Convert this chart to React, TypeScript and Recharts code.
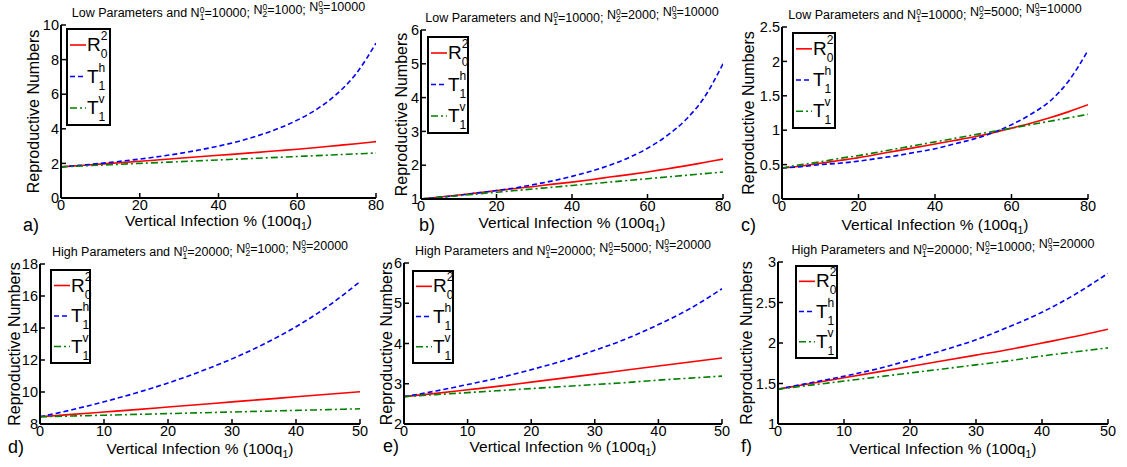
import React from 'react';
import { LineChart, Line, XAxis, YAxis } from 'recharts';

const FONT = '"Liberation Sans", Arial, Helvetica, sans-serif';

// x values (vertical infection %)
const xLow = [0, 5, 10, 15, 20, 25, 30, 35, 40, 45, 50, 55, 60, 65, 70, 75, 80];
const xHigh = [0, 5, 10, 15, 20, 25, 30, 35, 40, 45, 50];
const xTicksLow = [0, 20, 40, 60, 80];
const xTicksHigh = [0, 10, 20, 30, 40, 50];

// panel a
const aR0 = [1.8, 1.88, 1.96, 2.04, 2.12, 2.21, 2.3, 2.38, 2.47, 2.55, 2.64, 2.73, 2.82, 2.92, 3.03, 3.14, 3.26];
const aTh = [1.8, 1.89, 2.0, 2.12, 2.25, 2.4, 2.57, 2.77, 3.0, 3.27, 3.6, 4.0, 4.5, 5.14, 6.0, 7.2, 8.95];
const aTv = [1.8, 1.85, 1.9, 1.95, 2.0, 2.05, 2.1, 2.15, 2.2, 2.25, 2.3, 2.35, 2.4, 2.45, 2.5, 2.55, 2.6];
const aYTicks = [0, 2, 4, 6, 8, 10];
// panel b
const bR0 = [1.0, 1.06, 1.12, 1.18, 1.25, 1.31, 1.37, 1.44, 1.5, 1.57, 1.65, 1.72, 1.8, 1.89, 1.98, 2.08, 2.18];
const bTh = [1.0, 1.05, 1.11, 1.18, 1.25, 1.33, 1.43, 1.54, 1.67, 1.82, 2.0, 2.22, 2.5, 2.86, 3.33, 4.0, 5.0];
const bTv = [1.0, 1.05, 1.1, 1.15, 1.2, 1.25, 1.3, 1.35, 1.4, 1.45, 1.5, 1.55, 1.6, 1.65, 1.7, 1.75, 1.8];
const bYTicks = [1, 2, 3, 4, 5, 6];
// panel c
const cR0 = [0.45, 0.48, 0.52, 0.56, 0.6, 0.65, 0.7, 0.75, 0.8, 0.85, 0.9, 0.96, 1.03, 1.1, 1.18, 1.27, 1.37];
const cTh = [0.45, 0.47, 0.5, 0.52, 0.55, 0.59, 0.63, 0.68, 0.73, 0.8, 0.87, 0.96, 1.08, 1.23, 1.42, 1.72, 2.16];
const cTv = [0.45, 0.5, 0.54, 0.59, 0.63, 0.68, 0.73, 0.78, 0.83, 0.88, 0.93, 0.98, 1.03, 1.08, 1.13, 1.18, 1.23];
const cYTicks = [0, 0.5, 1, 1.5, 2, 2.5];
// panel d
const dR0 = [8.45, 8.6, 8.75, 8.9, 9.06, 9.22, 9.38, 9.54, 9.7, 9.86, 10.02];
const dTh = [8.45, 8.89, 9.39, 9.94, 10.56, 11.27, 12.07, 13.0, 14.08, 15.36, 16.9];
const dTv = [8.45, 8.5, 8.55, 8.6, 8.65, 8.7, 8.75, 8.8, 8.85, 8.9, 8.95];
const dYTicks = [8, 10, 12, 14, 16, 18];
// panel e
const eR0 = [2.68, 2.76, 2.85, 2.94, 3.04, 3.14, 3.24, 3.34, 3.44, 3.54, 3.64];
const eTh = [2.68, 2.82, 2.98, 3.15, 3.35, 3.57, 3.83, 4.12, 4.47, 4.87, 5.36];
const eTv = [2.68, 2.73, 2.78, 2.83, 2.88, 2.93, 2.98, 3.03, 3.09, 3.14, 3.19];
const eYTicks = [2, 3, 4, 5, 6];
// panel f
const fR0 = [1.43, 1.5, 1.57, 1.64, 1.71, 1.78, 1.85, 1.92, 2.0, 2.08, 2.17];
const fTh = [1.43, 1.51, 1.59, 1.68, 1.79, 1.91, 2.04, 2.2, 2.38, 2.6, 2.86];
const fTv = [1.43, 1.48, 1.53, 1.58, 1.63, 1.68, 1.73, 1.78, 1.84, 1.89, 1.94];
const fYTicks = [1, 1.5, 2, 2.5, 3];

const titlePrefixes = ['Low Parameters and ', 'Low Parameters and ', 'Low Parameters and ', 'High Parameters and ', 'High Parameters and ', 'High Parameters and '];
const titleN = [
  ['10000', '1000', '10000'],
  ['10000', '2000', '10000'],
  ['10000', '5000', '10000'],
  ['20000', '1000', '20000'],
  ['20000', '5000', '20000'],
  ['20000', '10000', '20000'],
];
const letters = ['a)', 'b)', 'c)', 'd)', 'e)', 'f)'];
const yLabel = 'Reproductive Numbers';
const xLabel = 'Vertical Infection % (100q';

const series = [
  { key: 'r', base: 'R', sup: '2', sub: '0', color: '#ff0000', dash: undefined as string | undefined },
  { key: 'th', base: 'T', sup: 'h', sub: '1', color: '#0000ff', dash: '5 3' },
  { key: 'tv', base: 'T', sup: 'v', sub: '1', color: '#008000', dash: '7 3 2 3' },
];

const rows = (x: number[], r: number[], th: number[], tv: number[]) =>
  x.map((v, i) => ({ x: v, r: r[i], th: th[i], tv: tv[i] }));

// layout (plot rectangles, legend boxes, label positions)
const panels = [
  { data: rows(xLow, aR0, aTh, aTv), xd: [0, 80], xt: xTicksLow, yd: [0, 10], yt: aYTicks, L: 61, T: 25, W: 315, H: 173, leg: [67, 29, 43, 96], ylx: 33, xlY: 226, let: [23, 231] },
  { data: rows(xLow, bR0, bTh, bTv), xd: [0, 80], xt: xTicksLow, yd: [1, 6], yt: bYTicks, L: 421, T: 30, W: 302, H: 169, leg: [428, 37, 40, 96], ylx: 401, xlY: 228, let: [419, 231] },
  { data: rows(xLow, cR0, cTh, cTv), xd: [0, 80], xt: xTicksLow, yd: [0, 2.5], yt: cYTicks, L: 782, T: 27, W: 306, H: 172, leg: [793, 33, 42, 95], ylx: 748, xlY: 230, let: [741, 231] },
  { data: rows(xHigh, dR0, dTh, dTv), xd: [0, 50], xt: xTicksHigh, yd: [8, 18], yt: dYTicks, L: 40, T: 264, W: 320, H: 160, leg: [51, 270, 39, 93], ylx: 14, xlY: 454, let: [8, 453] },
  { data: rows(xHigh, eR0, eTh, eTv), xd: [0, 50], xt: xTicksHigh, yd: [2, 6], yt: eYTicks, L: 404, T: 263, W: 318, H: 161, leg: [413, 271, 40, 92], ylx: 386, xlY: 452, let: [383, 452] },
  { data: rows(xHigh, fR0, fTh, fTv), xd: [0, 50], xt: xTicksHigh, yd: [1, 3], yt: fYTicks, L: 778, T: 262, W: 330, H: 162, leg: [796, 266, 41, 92], ylx: 746, xlY: 454, let: [741, 452] },
];

const axisLine = { stroke: '#000', strokeWidth: 2 };
const tickLine = { stroke: '#000', strokeWidth: 1.5 };
const tickStyle = { fill: '#000', fontSize: 14.5, fontFamily: FONT };
const blank = () => '';

function Panel({ p }: { p: any }) {
  const mL = 60, mT = 25, mR = 10, mB = 45;
  return (
    <div style={{ position: 'absolute', left: p.L - mL, top: p.T - mT }}>
      <LineChart width={p.W + mL + mR} height={p.H + mT + mB} data={p.data} margin={{ top: mT, right: mR, bottom: 15, left: 0 }}>
        <XAxis dataKey="x" type="number" domain={p.xd} ticks={p.xt} interval={0} allowDataOverflow height={30}
          axisLine={axisLine} tickLine={tickLine} tickSize={-5} tickMargin={7} tick={tickStyle} />
        <XAxis xAxisId="top" orientation="top" dataKey="x" type="number" domain={p.xd} ticks={p.xt} interval={0} allowDataOverflow height={0}
          axisLine={axisLine} tickLine={tickLine} tickSize={-5} tickFormatter={blank} />
        <YAxis type="number" domain={p.yd} ticks={p.yt} interval={0} allowDataOverflow width={mL}
          axisLine={axisLine} tickLine={tickLine} tickSize={-5} tickMargin={7} tick={tickStyle} />
        <YAxis yAxisId="right" orientation="right" type="number" domain={p.yd} ticks={p.yt} interval={0} allowDataOverflow width={0}
          axisLine={axisLine} tickLine={tickLine} tickSize={-5} tickFormatter={blank} />
        {series.map((s) => (
          <Line key={s.key} dataKey={s.key} type="monotone" stroke={s.color} strokeWidth={1.6}
            strokeDasharray={s.dash} dot={false} activeDot={false} isAnimationActive={false} />
        ))}
      </LineChart>
    </div>
  );
}

function Title({ p, i }: { p: any; i: number }) {
  const fs = 12.5, ss = 8.5;
  const n = titleN[i];
  const parts: any[] = [];
  n.forEach((v, k) => {
    parts.push(<tspan key={'n' + k} fontSize={fs} dy={k === 0 ? 0 : -3}>{(k === 0 ? titlePrefixes[i] : '') + 'N'}</tspan>);
    parts.push(<tspan key={'p' + k} fontSize={ss} dy={-4.5}>0</tspan>);
    parts.push(<tspan key={'b' + k} fontSize={ss} dx={-4.7} dy={7.5}>{String(k + 1)}</tspan>);
    parts.push(<tspan key={'v' + k} fontSize={fs} dy={-3}>{'=' + v + (k < 2 ? '; ' : '')}</tspan>);
  });
  return (
    <text x={p.L + p.W / 2} y={p.T - 8} textAnchor="middle" fontFamily={FONT} fill="#000">{parts}</text>
  );
}

function Legend({ p }: { p: any }) {
  const [bx, by, bw, bh] = p.leg;
  const sc = bh / 96;
  return (
    <g>
      <rect x={bx} y={by} width={bw} height={bh} fill="#fff" stroke="#000" strokeWidth={2} />
      {series.map((s, k) => {
        const ly = by + (16 + k * 31.5) * sc;
        const supW = s.sup === 'v' ? 6 : 6.7;
        return (
          <g key={s.key}>
            <line x1={bx + 3} x2={bx + 19} y1={ly} y2={ly} stroke={s.color} strokeWidth={1.6} strokeDasharray={s.dash} />
            <text x={bx + 20} y={ly + 6} fontFamily={FONT} fill="#000">
              <tspan fontSize={19}>{s.base}</tspan>
              <tspan fontSize={12} dy={-11}>{s.sup}</tspan>
              <tspan fontSize={12} dx={-supW} dy={18}>{s.sub}</tspan>
            </text>
          </g>
        );
      })}
    </g>
  );
}

function Overlay() {
  return (
    <svg width={1127} height={467} style={{ position: 'absolute', left: 0, top: 0, pointerEvents: 'none' }}>
      {panels.map((p, i) => (
        <g key={i}>
          <Title p={p} i={i} />
          <Legend p={p} />
          <text x={p.ylx} y={p.T + p.H / 2} transform={`rotate(-90 ${p.ylx} ${p.T + p.H / 2})`} textAnchor="middle"
            dominantBaseline="central" fontFamily={FONT} fontSize={16} fill="#000">{yLabel}</text>
          <text x={p.L + p.W / 2} y={p.xlY} textAnchor="middle" fontFamily={FONT} fontSize={15.5} fill="#000">
            <tspan>{xLabel}</tspan>
            <tspan fontSize={10.5} dy={4}>1</tspan>
            <tspan fontSize={15.5} dy={-4}>)</tspan>
          </text>
          <text x={p.let[0]} y={p.let[1]} fontFamily={FONT} fontSize={18} fill="#000">{letters[i]}</text>
        </g>
      ))}
    </svg>
  );
}

export default function App() {
  return (
    <div style={{ position: 'absolute', left: 0, top: 0, width: 1127, height: 467, background: '#fff', overflow: 'hidden' }}>
      {panels.map((p, i) => (
        <Panel key={i} p={p} />
      ))}
      <Overlay />
    </div>
  );
}
